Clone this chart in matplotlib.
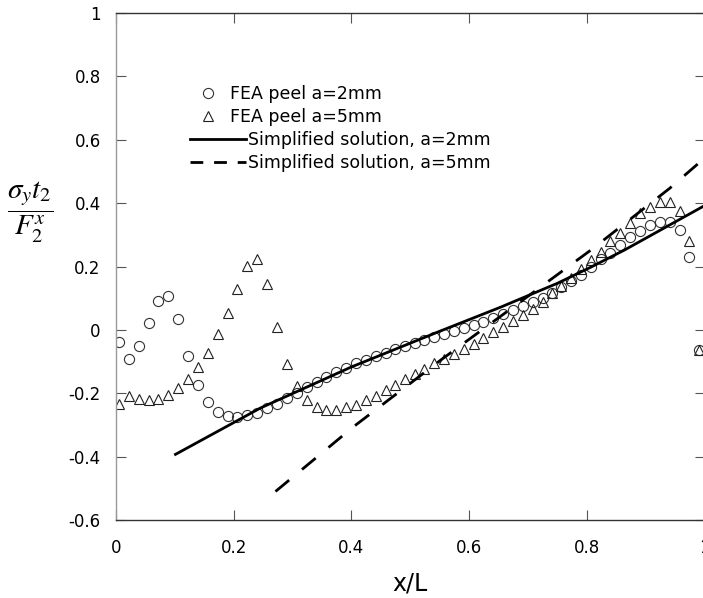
import matplotlib
matplotlib.use("Agg")
import matplotlib.pyplot as plt
from matplotlib.lines import Line2D

plt.rcParams['font.family'] = ['DejaVu Sans']
plt.rcParams['mathtext.fontset'] = 'stix'
plt.rcParams['axes.unicode_minus'] = False

# ---- data ----
x_fea = [0.005, 0.022, 0.039, 0.056, 0.072, 0.089, 0.106, 0.122, 0.139, 0.156,
         0.173, 0.190, 0.206, 0.223, 0.240, 0.257, 0.274, 0.290, 0.307, 0.324,
         0.341, 0.357, 0.374, 0.391, 0.408, 0.424, 0.441, 0.458, 0.474, 0.491,
         0.508, 0.524, 0.541, 0.557, 0.574, 0.591, 0.608, 0.624, 0.641, 0.658,
         0.674, 0.691, 0.708, 0.725, 0.741, 0.757, 0.774, 0.790, 0.807, 0.824,
         0.840, 0.857, 0.874, 0.890, 0.907, 0.924, 0.941, 0.958, 0.974, 0.990]

fea_a2 = [-0.037, -0.092, -0.051, 0.023, 0.092, 0.108, 0.035, -0.082, -0.174, -0.229,
          -0.260, -0.273, -0.276, -0.269, -0.261, -0.248, -0.233, -0.214, -0.200, -0.181,
          -0.163, -0.148, -0.134, -0.120, -0.106, -0.094, -0.083, -0.073, -0.060, -0.050,
          -0.041, -0.032, -0.023, -0.013, -0.004, 0.006, 0.014, 0.024, 0.037, 0.049,
          0.063, 0.074, 0.088, 0.100, 0.115, 0.134, 0.153, 0.172, 0.198, 0.223,
          0.244, 0.268, 0.292, 0.313, 0.331, 0.342, 0.342, 0.315, 0.229, -0.063]

fea_a5 = [-0.233, -0.210, -0.217, -0.221, -0.217, -0.206, -0.185, -0.156, -0.118, -0.074,
          -0.014, 0.053, 0.128, 0.203, 0.224, 0.145, 0.010, -0.107, -0.177, -0.221,
          -0.244, -0.253, -0.254, -0.244, -0.236, -0.222, -0.208, -0.191, -0.174, -0.156,
          -0.139, -0.123, -0.106, -0.091, -0.076, -0.061, -0.046, -0.027, -0.007, 0.010,
          0.027, 0.047, 0.065, 0.089, 0.116, 0.139, 0.163, 0.191, 0.219, 0.247,
          0.279, 0.307, 0.338, 0.368, 0.387, 0.402, 0.402, 0.376, 0.282, -0.063]

x_simp2 = [0.099, 0.245, 0.400, 0.552, 0.654, 0.750, 0.807, 0.864, 1.000]
y_simp2 = [-0.395, -0.247, -0.117, -0.003, 0.072, 0.147, 0.198, 0.252, 0.392]

x_simp5 = [0.271, 0.404, 0.552, 0.700, 0.807, 0.941, 1.000]
y_simp5 = [-0.510, -0.305, -0.095, 0.106, 0.252, 0.447, 0.542]

x_ticks = [0, 0.2, 0.4, 0.6, 0.8, 1.0]
x_ticklabels = ['0', '0.2', '0.4', '0.6', '0.8', '1']
y_ticks = [-0.6, -0.4, -0.2, 0, 0.2, 0.4, 0.6, 0.8, 1.0]
y_ticklabels = ['-0.6', '-0.4', '-0.2', '0', '0.2', '0.4', '0.6', '0.8', '1']

labels = ['FEA peel a=2mm', 'FEA peel a=5mm',
          'Simplified solution, a=2mm', 'Simplified solution, a=5mm']

# ---- figure ----
W, H = 703, 598
fig = plt.figure(figsize=(W / 100, H / 100), dpi=100)
ax = fig.add_axes([116 / W, 78 / H, 588.5 / W, 507 / H])

ax.plot(x_fea, fea_a2, linestyle='none', marker='o', ms=7.3, mfc='none',
        mec='#333333', mew=0.8)
ax.plot(x_fea, fea_a5, linestyle='none', marker='^', ms=7.3, mfc='none',
        mec='#222222', mew=0.8)
ax.plot(x_simp2, y_simp2, color='black', lw=2.0, solid_capstyle='butt')
ax.plot(x_simp5, y_simp5, color='black', lw=2.0, linestyle=(0, (6.4, 6.0)))

ax.set_xlim(0, 1)
ax.set_ylim(-0.6, 1)
ax.set_xticks(x_ticks)
ax.set_xticklabels(x_ticklabels)
ax.set_yticks(y_ticks)
ax.set_yticklabels(y_ticklabels)

ax.tick_params(axis='both', which='major', direction='in', length=7.2, width=0.8,
               color='#555555', labelsize=12, top=True, right=True)
ax.tick_params(axis='x', pad=14)
ax.tick_params(axis='y', pad=11)

for side in ['top', 'bottom']:
    ax.spines[side].set_color('#333333')
    ax.spines[side].set_linewidth(1.0)
ax.spines['left'].set_color('#999999')
ax.spines['left'].set_linewidth(1.0)
ax.spines['right'].set_visible(False)

ax.set_xlabel('x/L', fontsize=17, labelpad=10)
ax.set_ylabel(r'$\dfrac{\sigma_y t_2}{F_2^x}$', fontsize=21, rotation=0,
              ha='center', va='center')
ax.yaxis.set_label_coords((30 - 116) / 587.0, (520 - 212) / 507.0)

# ---- legends ----
h1 = [Line2D([], [], linestyle='none', marker='o', ms=7.3, mfc='none', mec='#333333', mew=0.8),
      Line2D([], [], linestyle='none', marker='^', ms=7.3, mfc='none', mec='#222222', mew=0.8)]
leg1 = fig.legend(h1, labels[:2], loc='upper left',
                  bbox_to_anchor=(199.3 / W, 1 - 85 / H),
                  frameon=False, fontsize=12.5, handlelength=1.0,
                  handletextpad=0.77, labelspacing=0.29, borderpad=0,
                  borderaxespad=0, numpoints=1)
h2 = [Line2D([], [], color='black', lw=2.0),
      Line2D([], [], color='black', lw=2.0, linestyle=(0, (4.6, 3.9)))]
leg2 = fig.legend(h2, labels[2:], loc='upper left',
                  bbox_to_anchor=(190 / W, 1 - 131 / H),
                  frameon=False, fontsize=12.5, handlelength=3.23,
                  handletextpad=0.1, labelspacing=0.29, borderpad=0,
                  borderaxespad=0)

fig.savefig('out.png', dpi=100)
